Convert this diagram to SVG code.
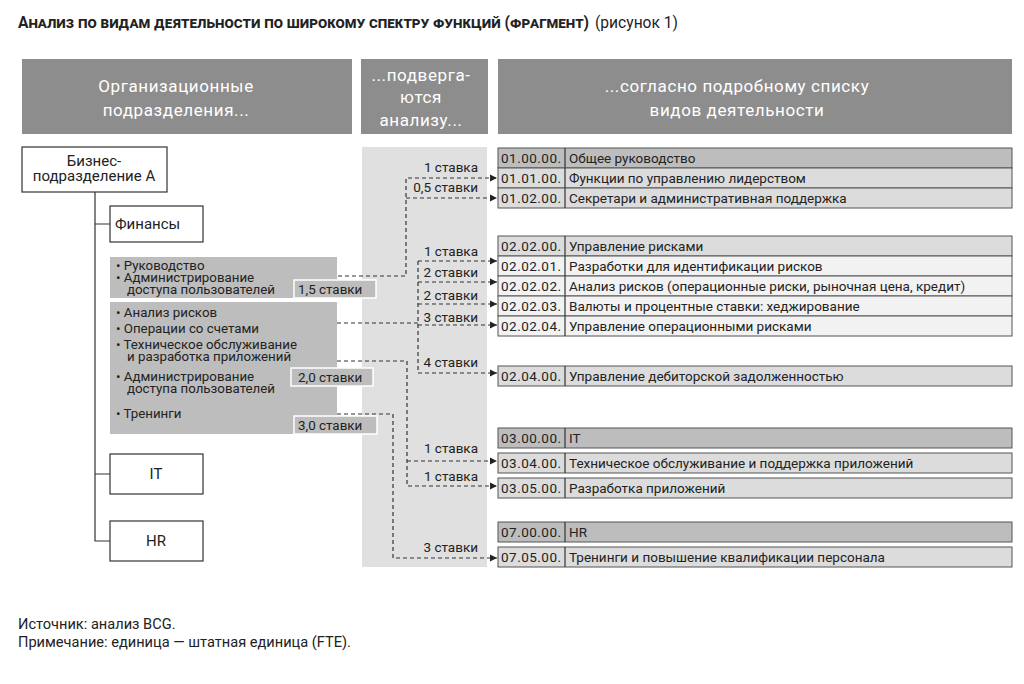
<svg xmlns="http://www.w3.org/2000/svg" width="1024" height="684" viewBox="0 0 1024 684">
<style>
text{font-family:Roboto,"Liberation Sans",sans-serif;fill:#222}
.hdr{fill:#8e8d8d}
.ht{fill:#fff;font-size:17px;letter-spacing:0.6px;text-anchor:middle}
.org{fill:#fff;stroke:#333;stroke-width:1.2}
.ot{font-size:15px}
.gb{fill:#bdbdbd}
.gt{font-size:13.3px}
.lb{fill:#bdbdbd;stroke:#fff;stroke-width:1.5}
.lt{font-size:13.4px}
.tl{fill:none;stroke:#333;stroke-width:1.2}
.dash{fill:none;stroke:#333;stroke-width:1.2;stroke-dasharray:4 3}
.r1{fill:#bdbdbd;stroke:#555;stroke-width:1}
.r2{fill:#dcdcdc;stroke:#555;stroke-width:1}
.r3{fill:#f2f2f2;stroke:#555;stroke-width:1}
.rt{font-size:13.5px}
.rc{font-size:13.5px}
.st{font-size:13.5px;text-anchor:end}
.ft{font-size:14.6px}
</style>
<defs>
<marker id="arr" markerUnits="userSpaceOnUse" markerWidth="7" markerHeight="8" refX="7" refY="4" orient="auto">
<path d="M0,0.5 L7,4 L0,7.5 z" fill="#222"/>
</marker>
</defs>
<rect width="1024" height="684" fill="#fff"/>

<g id="title">
<text x="18" y="28" font-size="16" font-weight="bold" font-variant="small-caps" textLength="571" lengthAdjust="spacingAndGlyphs">Анализ по видам деятельности по широкому спектру функций (фрагмент)</text>
<text x="595" y="28" font-size="16" textLength="83" lengthAdjust="spacingAndGlyphs">(рисунок 1)</text>
</g>

<g id="headers">
<rect class="hdr" x="22" y="59" width="330" height="75"/>
<text class="ht" x="176" y="92">Организационные</text>
<text class="ht" x="176" y="116">подразделения...</text>
<rect class="hdr" x="361" y="59" width="127" height="75"/>
<text class="ht" x="421" y="81">...подверга-</text>
<text class="ht" x="421" y="103">ются</text>
<text class="ht" x="421" y="126">анализу...</text>
<rect class="hdr" x="498" y="59" width="514" height="75"/>
<text class="ht" x="737" y="92">...согласно подробному списку</text>
<text class="ht" x="737" y="116">видов деятельности</text>
</g>

<rect id="mid-panel" x="362" y="147" width="125" height="420" fill="#e0e0e0"/>

<g id="tree-lines">
<path class="tl" d="M95,192 V541 H110 M95,224 H110 M95,474 H110"/>
</g>

<g id="node-business">
<rect class="org" x="22" y="147" width="145" height="45"/>
<text class="ot" x="94" y="166" text-anchor="middle">Бизнес-</text>
<text class="ot" x="94" y="181" text-anchor="middle">подразделение А</text>
</g>
<g id="node-finance">
<rect class="org" x="110" y="206" width="93" height="36"/>
<text class="ot" x="115" y="229" font-size="15.6">Финансы</text>
</g>
<g id="node-it">
<rect class="org" x="110" y="454" width="93" height="40"/>
<text class="ot" x="156" y="479" text-anchor="middle">IT</text>
</g>
<g id="node-hr">
<rect class="org" x="110" y="521" width="93" height="40"/>
<text class="ot" x="156" y="546" text-anchor="middle">HR</text>
</g>

<g id="node-fin-group1">
<rect class="gb" x="110" y="257" width="227" height="41"/>
<text class="gt" x="116" y="270">• Руководство</text>
<text class="gt" x="116" y="282">• Администрирование</text>
<text class="gt" x="127" y="294">доступа пользователей</text>
<rect class="lb" x="294" y="280" width="82" height="18"/>
<text class="lt" x="298" y="294">1,5 ставки</text>
</g>

<g id="node-fin-group2">
<rect class="gb" x="110" y="302" width="227" height="132"/>
<text class="gt" x="116" y="317">• Анализ рисков</text>
<text class="gt" x="116" y="333">• Операции со счетами</text>
<text class="gt" x="116" y="349">• Техническое обслуживание</text>
<text class="gt" x="127" y="361">и разработка приложений</text>
<text class="gt" x="116" y="381">• Администрирование</text>
<text class="gt" x="127" y="393">доступа пользователей</text>
<text class="gt" x="116" y="418">• Тренинги</text>
<rect class="lb" x="291" y="368" width="82" height="18"/>
<text class="lt" x="298" y="382">2,0 ставки</text>
<rect class="lb" x="294" y="416" width="83" height="18"/>
<text class="lt" x="298" y="430">3,0 ставки</text>
</g>

<g id="connectors">
<path class="dash" d="M338,276 H406 V178 H497" marker-end="url(#arr)"/>
<path class="dash" d="M406,198 H497" marker-end="url(#arr)"/>
<path class="dash" d="M337,323 H418"/>
<path class="dash" d="M418,261 H497" marker-end="url(#arr)"/>
<path class="dash" d="M418,261 V373 H497" marker-end="url(#arr)"/>
<path class="dash" d="M418,282 H497" marker-end="url(#arr)"/>
<path class="dash" d="M418,304 H497" marker-end="url(#arr)"/>
<path class="dash" d="M418,325 H497" marker-end="url(#arr)"/>
<path class="dash" d="M337,361 H407 V486 H497" marker-end="url(#arr)"/>
<path class="dash" d="M407,461 H497" marker-end="url(#arr)"/>
<path class="dash" d="M337,414 H393 V558 H497" marker-end="url(#arr)"/>
<text class="st" x="478" y="172">1 ставка</text>
<text class="st" x="478" y="192">0,5 ставки</text>
<text class="st" x="478" y="256">1 ставка</text>
<text class="st" x="478" y="277">2 ставки</text>
<text class="st" x="478" y="300">2 ставки</text>
<text class="st" x="478" y="322">3 ставки</text>
<text class="st" x="478" y="367">4 ставки</text>
<text class="st" x="478" y="453">1 ставка</text>
<text class="st" x="478" y="481">1 ставка</text>
<text class="st" x="478" y="552">3 ставки</text>
</g>

<g id="table-01">
<rect class="r1" x="498" y="148" width="514" height="20"/><path class="tl" d="M565,148 V168"/>
<text class="rc" x="501" y="163" textLength="60">01.00.00.</text><text class="rt" x="569" y="163">Общее руководство</text>
<rect class="r2" x="498" y="168" width="514" height="20"/><path class="tl" d="M565,168 V188"/>
<text class="rc" x="501" y="183" textLength="60">01.01.00.</text><text class="rt" x="569" y="183">Функции по управлению лидерством</text>
<rect class="r2" x="498" y="188" width="514" height="20"/><path class="tl" d="M565,188 V208"/>
<text class="rc" x="501" y="203" textLength="60">01.02.00.</text><text class="rt" x="569" y="203">Секретари и административная поддержка</text>
</g>

<g id="table-02">
<rect class="r2" x="498" y="236" width="514" height="20"/><path class="tl" d="M565,236 V256"/>
<text class="rc" x="501" y="251" textLength="60">02.02.00.</text><text class="rt" x="569" y="251">Управление рисками</text>
<rect class="r3" x="498" y="256" width="514" height="20"/><path class="tl" d="M565,256 V276"/>
<text class="rc" x="501" y="271" textLength="60">02.02.01.</text><text class="rt" x="569" y="271">Разработки для идентификации рисков</text>
<rect class="r3" x="498" y="276" width="514" height="20"/><path class="tl" d="M565,276 V296"/>
<text class="rc" x="501" y="291" textLength="60">02.02.02.</text><text class="rt" x="569" y="291">Анализ рисков (операционные риски, рыночная цена, кредит)</text>
<rect class="r3" x="498" y="296" width="514" height="20"/><path class="tl" d="M565,296 V316"/>
<text class="rc" x="501" y="311" textLength="60">02.02.03.</text><text class="rt" x="569" y="311">Валюты и процентные ставки: хеджирование</text>
<rect class="r3" x="498" y="316" width="514" height="20"/><path class="tl" d="M565,316 V336"/>
<text class="rc" x="501" y="331" textLength="60">02.02.04.</text><text class="rt" x="569" y="331">Управление операционными рисками</text>
</g>

<g id="table-0204">
<rect class="r2" x="498" y="366" width="514" height="20"/><path class="tl" d="M565,366 V386"/>
<text class="rc" x="501" y="381" textLength="60">02.04.00.</text><text class="rt" x="569" y="381">Управление дебиторской задолженностью</text>
</g>

<g id="table-03">
<rect class="r1" x="498" y="428" width="514" height="20"/><path class="tl" d="M565,428 V448"/>
<text class="rc" x="501" y="443" textLength="60">03.00.00.</text><text class="rt" x="569" y="443">IT</text>
<rect class="r2" x="498" y="453" width="514" height="20"/><path class="tl" d="M565,453 V473"/>
<text class="rc" x="501" y="468" textLength="60">03.04.00.</text><text class="rt" x="569" y="468">Техническое обслуживание и поддержка приложений</text>
<rect class="r2" x="498" y="478" width="514" height="20"/><path class="tl" d="M565,478 V498"/>
<text class="rc" x="501" y="493" textLength="60">03.05.00.</text><text class="rt" x="569" y="493">Разработка приложений</text>
</g>

<g id="table-07">
<rect class="r1" x="498" y="522" width="514" height="20"/><path class="tl" d="M565,522 V542"/>
<text class="rc" x="501" y="537" textLength="60">07.00.00.</text><text class="rt" x="569" y="537">HR</text>
<rect class="r2" x="498" y="547" width="514" height="20"/><path class="tl" d="M565,547 V567"/>
<text class="rc" x="501" y="562" textLength="60">07.05.00.</text><text class="rt" x="569" y="562">Тренинги и повышение квалификации персонала</text>
</g>

<g id="footer">
<text class="ft" x="18" y="629">Источник: анализ BCG.</text>
<text class="ft" x="18" y="647">Примечание: единица — штатная единица (FTE).</text>
</g>
</svg>
